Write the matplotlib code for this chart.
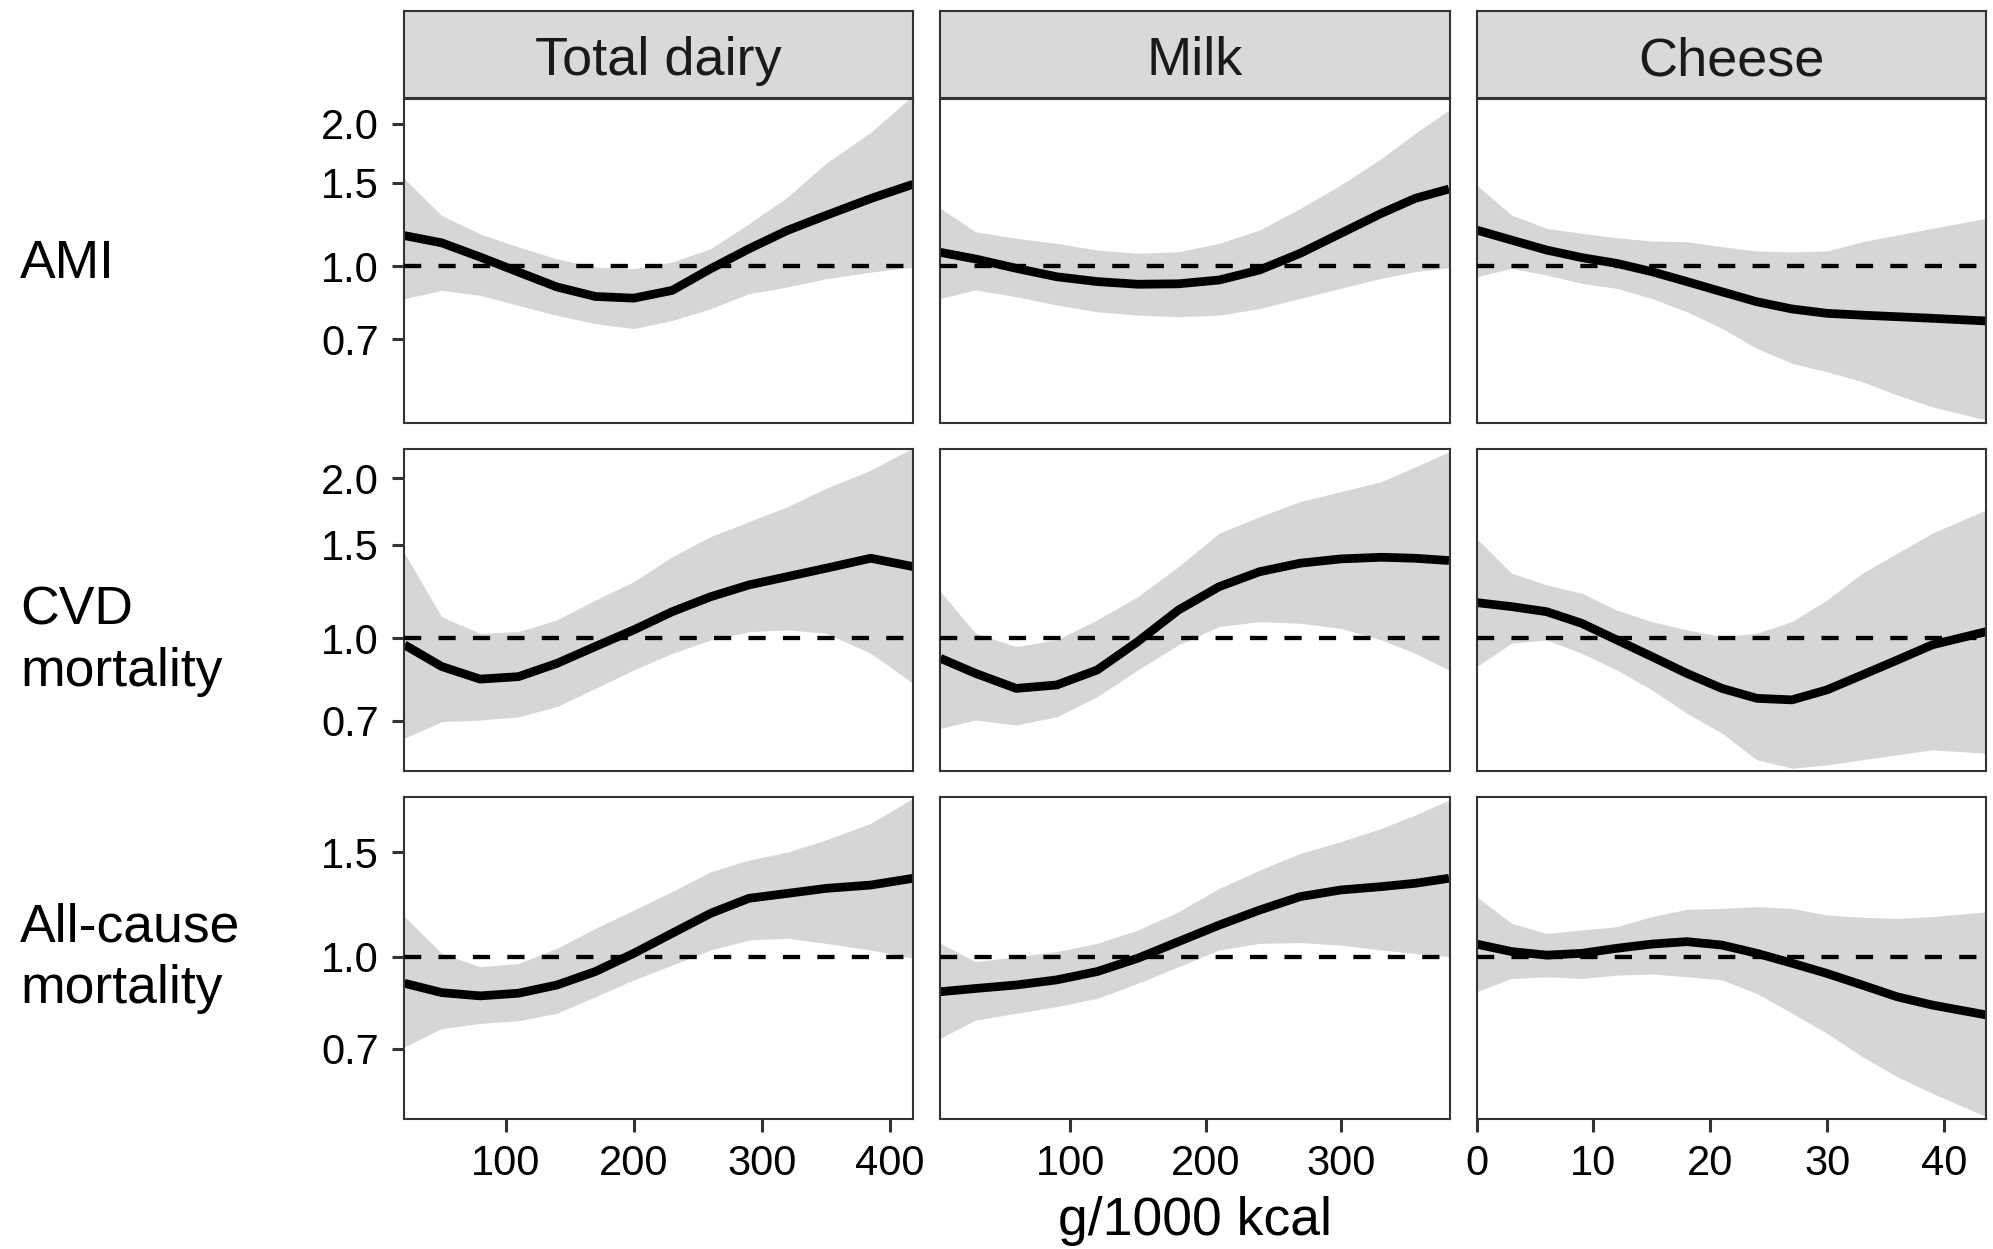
import matplotlib as mpl
mpl.use('Agg')
import matplotlib.pyplot as plt
from matplotlib.ticker import FixedLocator, FixedFormatter, NullLocator

plt.rcParams['font.family'] = ['Liberation Sans', 'DejaVu Sans']

# ---- data (relative risk) ----
foods = ['Total dairy', 'Milk', 'Cheese']
outcomes = ['AMI', 'CVD\nmortality', 'All-cause\nmortality']
x_label = 'g/1000 kcal'

x_total = [21, 50, 80, 110, 140, 170, 200, 230, 260, 290, 320, 350, 385, 418]
x_milk = [4, 30, 60, 90, 120, 150, 180, 210, 240, 270, 300, 330, 355, 380]
x_cheese = [0, 3, 6, 9, 12, 15, 18, 21, 24, 27, 30, 33, 36, 39, 43.6]

ami_total_fit = [1.16, 1.12, 1.045, 0.971, 0.903, 0.862, 0.855, 0.888, 0.987, 1.088, 1.19, 1.28, 1.39, 1.49]
ami_total_lo = [0.853, 0.888, 0.867, 0.825, 0.786, 0.755, 0.737, 0.767, 0.812, 0.874, 0.903, 0.94, 0.971, 0.995]
ami_total_hi = [1.53, 1.28, 1.17, 1.097, 1.036, 0.995, 0.987, 1.02, 1.088, 1.23, 1.40, 1.65, 1.92, 2.30]

ami_milk_fit = [1.069, 1.035, 0.989, 0.949, 0.927, 0.915, 0.917, 0.934, 0.981, 1.064, 1.173, 1.293, 1.391, 1.456]
ami_milk_lo = [0.854, 0.89, 0.861, 0.827, 0.80, 0.787, 0.781, 0.787, 0.813, 0.854, 0.897, 0.942, 0.973, 0.992]
ami_milk_hi = [1.325, 1.182, 1.145, 1.117, 1.081, 1.064, 1.072, 1.117, 1.192, 1.325, 1.485, 1.69, 1.91, 2.14]

ami_cheese_fit = [1.192, 1.135, 1.081, 1.042, 1.013, 0.973, 0.927, 0.882, 0.84, 0.811, 0.794, 0.787, 0.781, 0.775, 0.765]
ami_cheese_lo = [0.949, 0.989, 0.957, 0.919, 0.897, 0.854, 0.80, 0.738, 0.669, 0.622, 0.597, 0.569, 0.533, 0.503, 0.472]
ami_cheese_hi = [1.485, 1.282, 1.202, 1.173, 1.148, 1.13, 1.126, 1.099, 1.076, 1.072, 1.076, 1.126, 1.163, 1.202, 1.262]

cvd_total_fit = [0.972, 0.885, 0.838, 0.847, 0.897, 0.965, 1.037, 1.122, 1.197, 1.26, 1.306, 1.354, 1.414, 1.364]
cvd_total_lo = [0.649, 0.697, 0.702, 0.712, 0.744, 0.805, 0.872, 0.937, 0.993, 1.029, 1.037, 1.022, 0.937, 0.823]
cvd_total_hi = [1.445, 1.098, 1.022, 1.029, 1.083, 1.18, 1.278, 1.424, 1.553, 1.657, 1.768, 1.914, 2.07, 2.28]

cvd_milk_fit = [0.917, 0.859, 0.805, 0.817, 0.872, 0.986, 1.13, 1.25, 1.334, 1.384, 1.41, 1.42, 1.414, 1.40]
cvd_milk_lo = [0.677, 0.702, 0.687, 0.712, 0.777, 0.872, 0.972, 1.052, 1.075, 1.067, 1.044, 0.993, 0.937, 0.872]
cvd_milk_hi = [1.224, 1.022, 0.965, 0.993, 1.083, 1.198, 1.364, 1.576, 1.693, 1.807, 1.887, 1.97, 2.10, 2.24]

cvd_cheese_fit = [1.167, 1.147, 1.122, 1.067, 0.993, 0.924, 0.859, 0.805, 0.771, 0.766, 0.80, 0.853, 0.91, 0.972, 1.029]
cvd_cheese_lo = [0.884, 0.979, 0.993, 0.937, 0.872, 0.80, 0.723, 0.663, 0.591, 0.57, 0.578, 0.591, 0.604, 0.617, 0.608]
cvd_cheese_hi = [1.542, 1.325, 1.26, 1.215, 1.13, 1.075, 1.037, 1.007, 1.022, 1.075, 1.181, 1.325, 1.445, 1.576, 1.743]

all_total_fit = [0.902, 0.870, 0.859, 0.868, 0.896, 0.944, 1.013, 1.095, 1.183, 1.254, 1.278, 1.303, 1.32, 1.355]
all_total_lo = [0.705, 0.757, 0.772, 0.78, 0.803, 0.856, 0.914, 0.968, 1.026, 1.067, 1.074, 1.053, 1.026, 0.994]
all_total_hi = [1.168, 1.013, 0.962, 0.974, 1.033, 1.116, 1.198, 1.287, 1.39, 1.454, 1.50, 1.572, 1.677, 1.847]

all_milk_fit = [0.873, 0.884, 0.896, 0.914, 0.944, 0.994, 1.06, 1.13, 1.198, 1.262, 1.295, 1.312, 1.329, 1.355]
all_milk_lo = [0.729, 0.782, 0.803, 0.824, 0.851, 0.902, 0.962, 1.026, 1.053, 1.056, 1.046, 1.026, 1.013, 1.0]
all_milk_hi = [1.053, 0.981, 1.0, 1.02, 1.053, 1.109, 1.19, 1.303, 1.399, 1.492, 1.562, 1.644, 1.732, 1.835]

all_cheese_fit = [1.05, 1.02, 1.006, 1.013, 1.033, 1.05, 1.06, 1.046, 1.013, 0.975, 0.937, 0.896, 0.856, 0.829, 0.798]
all_cheese_lo = [0.873, 0.919, 0.925, 0.919, 0.931, 0.935, 0.925, 0.914, 0.867, 0.803, 0.743, 0.679, 0.628, 0.589, 0.538]
all_cheese_hi = [1.262, 1.138, 1.094, 1.109, 1.123, 1.168, 1.201, 1.206, 1.214, 1.206, 1.175, 1.165, 1.16, 1.168, 1.19]

x_ticks = [[100, 200, 300, 400], [100, 200, 300], [0, 10, 20, 30, 40]]
y_ticks = [[0.7, 1.0, 1.5, 2.0], [0.7, 1.0, 1.5, 2.0], [0.7, 1.0, 1.5]]
x_lims = [(20.6, 418), (3.7, 380.4), (0, 43.6)]
y_lims = [(0.465, 2.259), (0.563, 2.269), (0.533, 1.857)]

panels = [
    [(x_total, ami_total_fit, ami_total_lo, ami_total_hi),
     (x_milk, ami_milk_fit, ami_milk_lo, ami_milk_hi),
     (x_cheese, ami_cheese_fit, ami_cheese_lo, ami_cheese_hi)],
    [(x_total, cvd_total_fit, cvd_total_lo, cvd_total_hi),
     (x_milk, cvd_milk_fit, cvd_milk_lo, cvd_milk_hi),
     (x_cheese, cvd_cheese_fit, cvd_cheese_lo, cvd_cheese_hi)],
    [(x_total, all_total_fit, all_total_lo, all_total_hi),
     (x_milk, all_milk_fit, all_milk_lo, all_milk_hi),
     (x_cheese, all_cheese_fit, all_cheese_lo, all_cheese_hi)],
]

# ---- layout (pixels of a 1993x1249 canvas) ----
W, H = 1993, 1249
col_px = [(404, 913), (940, 1449.5), (1476.5, 1986)]
row_px = [(99, 423), (449, 771), (797, 1119)]
strip_px = (11, 98)
label_y = [264, 641, 958]

edge = '#333333'
band = '#D6D6D6'

fig = plt.figure(figsize=(W / 100, H / 100), dpi=100)

for i in range(3):
    for j in range(3):
        x0, x1 = col_px[j]
        y0, y1 = row_px[i]
        ax = fig.add_axes([x0 / W, 1 - y1 / H, (x1 - x0) / W, (y1 - y0) / H])
        x, fit, lo, hi = panels[i][j]
        ax.fill_between(x, lo, hi, color=band, lw=0, zorder=1)
        ax.plot(x, fit, color='black', lw=6.3, solid_joinstyle='round',
                solid_capstyle='butt', zorder=2)
        ax.axhline(1.0, color='black', lw=3.1, dashes=(4.0, 4.0), zorder=3)
        ax.set_yscale('log')
        ax.set_xlim(*x_lims[j])
        ax.set_ylim(*y_lims[i])
        ax.yaxis.set_major_locator(FixedLocator(y_ticks[i]))
        ax.yaxis.set_major_formatter(FixedFormatter(['%.1f' % v for v in y_ticks[i]]))
        ax.yaxis.set_minor_locator(NullLocator())
        ax.xaxis.set_major_locator(FixedLocator(x_ticks[j]))
        ax.xaxis.set_minor_locator(NullLocator())
        for s in ax.spines.values():
            s.set_color(edge)
            s.set_linewidth(1.5)
        ax.tick_params(axis='both', length=9, width=2.2, color=edge, pad=9,
                       labelsize=30, labelcolor='black')
        if j > 0:
            ax.tick_params(axis='y', left=False, labelleft=False)
        if i < 2:
            ax.tick_params(axis='x', bottom=False, labelbottom=False)

# facet strips
for j in range(3):
    x0, x1 = col_px[j]
    sax = fig.add_axes([x0 / W, 1 - strip_px[1] / H, (x1 - x0) / W, (strip_px[1] - strip_px[0]) / H])
    sax.set_facecolor('#D9D9D9')
    sax.set_xticks([])
    sax.set_yticks([])
    for s in sax.spines.values():
        s.set_color(edge)
        s.set_linewidth(1.5)
    fig.text((x0 + x1) / 2 / W, 1 - 75 / H, foods[j], ha='center', va='baseline',
             fontsize=39, color='#1a1a1a')

# row labels
for i in range(3):
    fig.text(20 / W, 1 - label_y[i] / H, outcomes[i], ha='left', va='center',
             fontsize=38.5, linespacing=1.3)

fig.text(1195 / W, 1 - 1235 / H, x_label, ha='center', va='baseline', fontsize=38.5)

fig.savefig('out.png', dpi=100)
